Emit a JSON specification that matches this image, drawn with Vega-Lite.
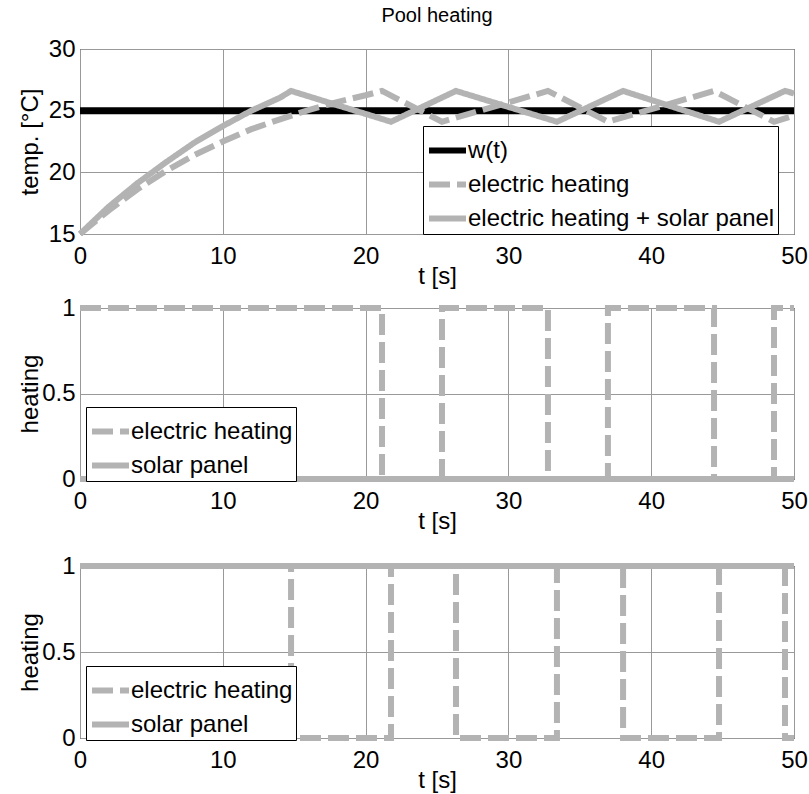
{
  "$schema": "https://vega.github.io/schema/vega-lite/v6.json",
  "background": "white",
  "padding": {"left": 17, "top": 5, "right": 14, "bottom": 0},
  "config": {
    "font": "Liberation Sans",
    "view": {"stroke": "black", "strokeWidth": 1},
    "axis": {"grid": true, "gridColor": "#999999", "gridOpacity": 1, "gridWidth": 1, "ticks": false, "domain": false, "labelFontSize": 24, "labelColor": "black", "titleFontSize": 24, "titleFontWeight": "normal", "titleColor": "black", "labelFlush": false, "labelOverlap": false},
    "axisX": {"labelPadding": 10, "titlePadding": -4},
    "axisY": {"labelPadding": 5},
    "legend": {"orient": "none", "symbolType": "stroke", "symbolSize": 1369, "symbolStrokeWidth": 6, "labelFontSize": 24, "labelColor": "black", "labelOffset": -1, "rowPadding": -6, "padding": 3, "strokeColor": "black", "fillColor": "white", "labelLimit": 0, "cornerRadius": 0},
    "title": {"fontSize": 20, "fontWeight": "normal", "color": "black"}
  },
  "datasets": {
    "temp": [
      {"t": 0, "T": 25, "series": "w(t)"},
      {"t": 50, "T": 25, "series": "w(t)"},
      {"t": 0, "T": 15, "series": "electric heating"},
      {"t": 2, "T": 16.9, "series": "electric heating"},
      {"t": 4, "T": 18.6, "series": "electric heating"},
      {"t": 6, "T": 20.1, "series": "electric heating"},
      {"t": 8, "T": 21.4, "series": "electric heating"},
      {"t": 10, "T": 22.5, "series": "electric heating"},
      {"t": 12, "T": 23.5, "series": "electric heating"},
      {"t": 14, "T": 24.3, "series": "electric heating"},
      {"t": 16, "T": 25.05, "series": "electric heating"},
      {"t": 18, "T": 25.7, "series": "electric heating"},
      {"t": 20, "T": 26.25, "series": "electric heating"},
      {"t": 21.15, "T": 26.6, "series": "electric heating"},
      {"t": 25.35, "T": 24.1, "series": "electric heating"},
      {"t": 32.77, "T": 26.6, "series": "electric heating"},
      {"t": 36.97, "T": 24.1, "series": "electric heating"},
      {"t": 44.4, "T": 26.6, "series": "electric heating"},
      {"t": 48.6, "T": 24.1, "series": "electric heating"},
      {"t": 50, "T": 24.6, "series": "electric heating"},
      {"t": 0, "T": 15, "series": "electric heating + solar panel"},
      {"t": 2, "T": 17.2, "series": "electric heating + solar panel"},
      {"t": 4, "T": 19.1, "series": "electric heating + solar panel"},
      {"t": 6, "T": 20.8, "series": "electric heating + solar panel"},
      {"t": 8, "T": 22.4, "series": "electric heating + solar panel"},
      {"t": 10, "T": 23.75, "series": "electric heating + solar panel"},
      {"t": 12, "T": 25.0, "series": "electric heating + solar panel"},
      {"t": 14, "T": 26.05, "series": "electric heating + solar panel"},
      {"t": 14.78, "T": 26.6, "series": "electric heating + solar panel"},
      {"t": 21.78, "T": 24.1, "series": "electric heating + solar panel"},
      {"t": 26.33, "T": 26.6, "series": "electric heating + solar panel"},
      {"t": 33.4, "T": 24.1, "series": "electric heating + solar panel"},
      {"t": 38.03, "T": 26.6, "series": "electric heating + solar panel"},
      {"t": 44.75, "T": 24.1, "series": "electric heating + solar panel"},
      {"t": 49.37, "T": 26.6, "series": "electric heating + solar panel"},
      {"t": 50, "T": 26.4, "series": "electric heating + solar panel"}
    ],
    "mid": [
      {"t": 0, "h": 1, "series": "electric heating"},
      {"t": 21.15, "h": 0, "series": "electric heating"},
      {"t": 25.35, "h": 1, "series": "electric heating"},
      {"t": 32.77, "h": 0, "series": "electric heating"},
      {"t": 36.97, "h": 1, "series": "electric heating"},
      {"t": 44.4, "h": 0, "series": "electric heating"},
      {"t": 48.6, "h": 1, "series": "electric heating"},
      {"t": 50, "h": 1, "series": "electric heating"},
      {"t": 0, "h": 0, "series": "solar panel"},
      {"t": 50, "h": 0, "series": "solar panel"}
    ],
    "bot": [
      {"t": 0, "h": 1, "series": "electric heating"},
      {"t": 14.78, "h": 0, "series": "electric heating"},
      {"t": 21.78, "h": 1, "series": "electric heating"},
      {"t": 26.33, "h": 0, "series": "electric heating"},
      {"t": 33.4, "h": 1, "series": "electric heating"},
      {"t": 38.03, "h": 0, "series": "electric heating"},
      {"t": 44.75, "h": 1, "series": "electric heating"},
      {"t": 49.37, "h": 0, "series": "electric heating"},
      {"t": 50, "h": 0, "series": "electric heating"},
      {"t": 0, "h": 1, "series": "solar panel"},
      {"t": 50, "h": 1, "series": "solar panel"}
    ]
  },
  "spacing": 6,
  "resolve": {"scale": {"x": "independent", "y": "independent", "color": "independent", "strokeDash": "independent"}, "legend": {"color": "independent", "strokeDash": "independent"}},
  "vconcat": [
    {
      "width": 714, "height": 185,
      "title": {"text": "Pool heating", "offset": -5, "baseline": "alphabetic"},
      "data": {"name": "temp"},
      "encoding": {
        "x": {"field": "t", "type": "quantitative", "scale": {"domain": [0, 50], "nice": false}, "axis": {"values": [0, 10, 20, 30, 40, 50], "title": "t [s]"}},
        "y": {"field": "T", "type": "quantitative", "scale": {"domain": [15, 30], "nice": false, "zero": false}, "axis": {"values": [15, 20, 25, 30], "title": "temp. [°C]", "titleX": -38, "titleBaseline": "bottom"}},
        "color": {"field": "series", "type": "nominal", "scale": {"domain": ["w(t)", "electric heating", "electric heating + solar panel"], "range": ["black", "#b3b3b3", "#b3b3b3"]}, "legend": {"title": null, "orient": "none", "legendX": 343, "legendY": 77}},
        "strokeDash": {"field": "series", "type": "nominal", "scale": {"domain": ["w(t)", "electric heating", "electric heating + solar panel"], "range": [[1, 0], [21, 7], [1, 0]]}, "legend": {"title": null, "orient": "none", "legendX": 343, "legendY": 77}}
      },
      "layer": [
        {"transform": [{"filter": "datum.series === 'w(t)'"}], "mark": {"type": "line", "strokeWidth": 7}},
        {"transform": [{"filter": "datum.series === 'electric heating'"}], "mark": {"type": "line", "strokeWidth": 6}},
        {"transform": [{"filter": "datum.series === 'electric heating + solar panel'"}], "mark": {"type": "line", "strokeWidth": 6}}
      ]
    },
    {
      "width": 714, "height": 171,
      "data": {"name": "mid"},
      "encoding": {
        "x": {"field": "t", "type": "quantitative", "scale": {"domain": [0, 50], "nice": false}, "axis": {"values": [0, 10, 20, 30, 40, 50], "title": "t [s]"}},
        "y": {"field": "h", "type": "quantitative", "scale": {"domain": [0, 1], "nice": false}, "axis": {"values": [0, 0.5, 1], "format": "~g", "title": "heating", "titleX": -38, "titleBaseline": "bottom"}},
        "color": {"field": "series", "type": "nominal", "scale": {"domain": ["electric heating", "solar panel"], "range": ["#b3b3b3", "#b3b3b3"]}, "legend": {"title": null, "orient": "none", "legendX": 6, "legendY": 99}},
        "strokeDash": {"field": "series", "type": "nominal", "scale": {"domain": ["electric heating", "solar panel"], "range": [[21, 7], [1, 0]]}, "legend": {"title": null, "orient": "none", "legendX": 6, "legendY": 99}}
      },
      "layer": [
        {"transform": [{"filter": "datum.series === 'electric heating'"}], "mark": {"type": "line", "strokeWidth": 6, "interpolate": "step-after"}},
        {"transform": [{"filter": "datum.series === 'solar panel'"}], "mark": {"type": "line", "strokeWidth": 6, "interpolate": "step-after"}}
      ]
    },
    {
      "width": 714, "height": 172,
      "title": {"text": " ", "fontSize": 9, "offset": 4},
      "data": {"name": "bot"},
      "encoding": {
        "x": {"field": "t", "type": "quantitative", "scale": {"domain": [0, 50], "nice": false}, "axis": {"values": [0, 10, 20, 30, 40, 50], "title": "t [s]"}},
        "y": {"field": "h", "type": "quantitative", "scale": {"domain": [0, 1], "nice": false}, "axis": {"values": [0, 0.5, 1], "format": "~g", "title": "heating", "titleX": -38, "titleBaseline": "bottom"}},
        "color": {"field": "series", "type": "nominal", "scale": {"domain": ["electric heating", "solar panel"], "range": ["#b3b3b3", "#b3b3b3"]}, "legend": {"title": null, "orient": "none", "legendX": 6, "legendY": 100}},
        "strokeDash": {"field": "series", "type": "nominal", "scale": {"domain": ["electric heating", "solar panel"], "range": [[21, 7], [1, 0]]}, "legend": {"title": null, "orient": "none", "legendX": 6, "legendY": 100}}
      },
      "layer": [
        {"transform": [{"filter": "datum.series === 'electric heating'"}], "mark": {"type": "line", "strokeWidth": 6, "interpolate": "step-after"}},
        {"transform": [{"filter": "datum.series === 'solar panel'"}], "mark": {"type": "line", "strokeWidth": 6, "interpolate": "step-after"}}
      ]
    }
  ]
}
